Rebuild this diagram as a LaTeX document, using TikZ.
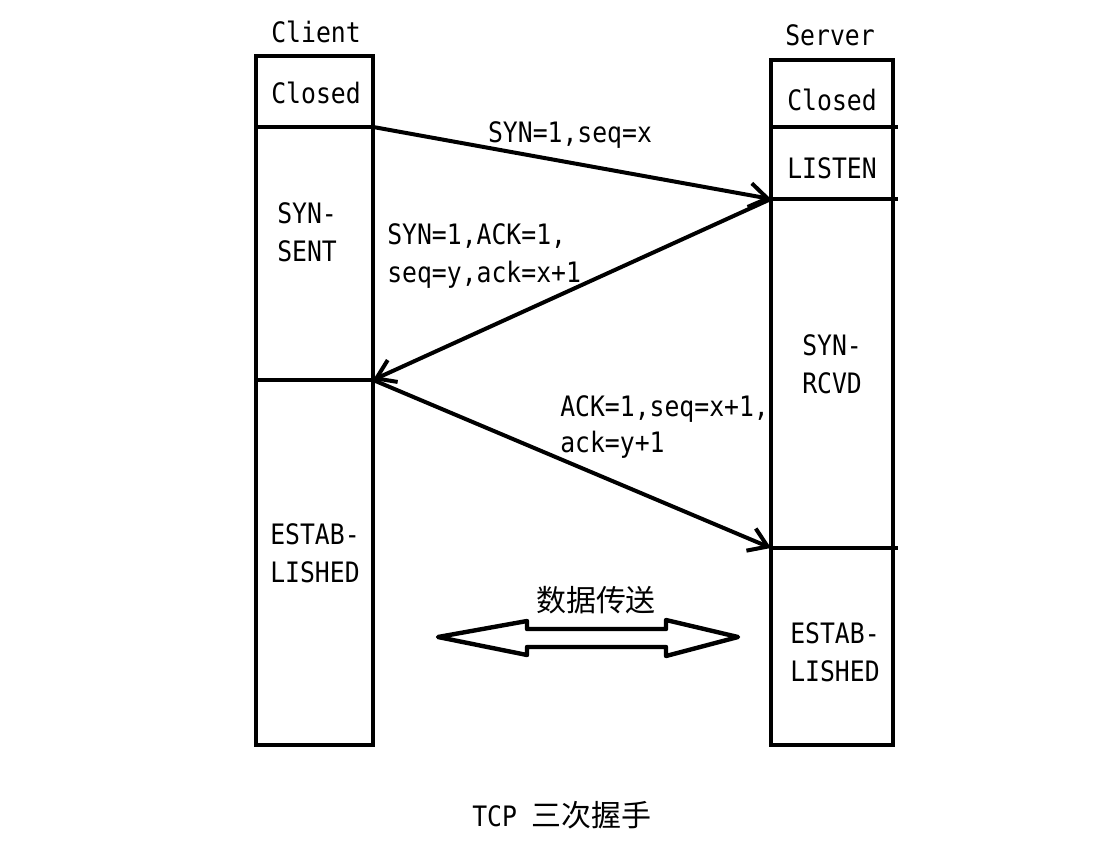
\documentclass[tikz,border=0pt]{standalone}
\usepackage{fontspec}
\usepackage{tikz}
\usetikzlibrary{arrows.meta}

\newfontfamily\latinfont[FakeStretch=0.88]{DejaVu Sans Mono}
\newfontfamily\cjk{Noto Sans CJK SC}

\tikzset{
  statebox/.style={draw, line width=0.105cm, inner sep=0pt, outer sep=0pt},
  lbl/.style={inner sep=0pt, align=left, font=\latinfont\fontsize{20}{27}\selectfont},
  msg/.style={line width=0.1cm, -{Straight Barb[length=0.45cm, width=0.6cm, line width=0.1cm]}},
}

\begin{document}
\begin{tikzpicture}[x=0.025cm, y=-0.025cm]
\useasboundingbox (0,0) rectangle (1109,862);

% client column
\node[statebox, minimum width=2.925cm, minimum height=1.775cm] (cclosed) at (314.5,91.5) {};
\node[statebox, minimum width=2.925cm, minimum height=6.325cm] (csent) at (314.5,253.5) {};
\node[statebox, minimum width=2.925cm, minimum height=9.125cm] (cest) at (314.5,562.5) {};

% server column
\node[statebox, minimum width=3.05cm, minimum height=1.675cm] (sclosed) at (832,93.5) {};
\node[statebox, minimum width=3.05cm, minimum height=1.8cm] (slisten) at (832,163) {};
\node[statebox, minimum width=3.05cm, minimum height=8.725cm] (srcvd) at (832,373.5) {};
\node[statebox, minimum width=3.05cm, minimum height=4.925cm] (sest) at (832,646.5) {};
\draw[line width=0.105cm] (slisten.north east) -- ++(5,0);
\draw[line width=0.105cm] (srcvd.north east) -- ++(5,0);
\draw[line width=0.105cm] (sest.north east) -- ++(5,0);

% titles and states
\node[lbl] (cname) at (316,32) {Client};
\node[lbl] (sname) at (830,35) {Server};
\node[lbl] (cclosedtxt) at (316,93) {Closed};
\node[lbl] (sclosedtxt) at (832,100) {Closed};
\node[lbl] (slistentxt) at (832,168) {LISTEN};
\node[lbl, anchor=west] (csenttxt) at (277,232) {SYN-\\SENT};
\node[lbl, anchor=west] (cesttxt) at (270,553) {ESTAB-\\LISHED};
\node[lbl, anchor=west] (srcvdtxt) at (802,364) {SYN-\\RCVD};
\node[lbl, anchor=west] (sesttxt) at (790,652) {ESTAB-\\LISHED};

% handshake
\draw[msg] (csent.north east) -- (slisten.south west);
\draw[msg] (srcvd.north west) -- (cest.north east);
\draw[msg] (cest.north east) -- (sest.north west);
\node[lbl] (synlbl) at (570,135) {SYN=1,seq=x};
\node[lbl, anchor=west] (synacklbl) at (387,256) {SYN=1,ACK=1,\\seq=y,ack=x+1};
\node[lbl, anchor=west] (acklbl) at (560,427) {ACK=1,seq=x+1,\\[-2pt]ack=y+1};

% data transfer
\node[inner sep=0pt, font=\cjk\fontsize{21.3}{24}\selectfont] (xfertxt) at (596,600) {数据传送};
\draw[line width=0.11cm, line join=round]
  (438,637) -- (527,621) -- (527,629) -- (666,629) -- (666,620) -- (738,637)
  -- (666,656) -- (666,647) -- (527,647) -- (527,655) -- cycle;

\node[lbl] (caption) at (562,815) {TCP {\cjk\fontsize{21.3}{24}\selectfont 三次握手}};
\end{tikzpicture}
\end{document}
